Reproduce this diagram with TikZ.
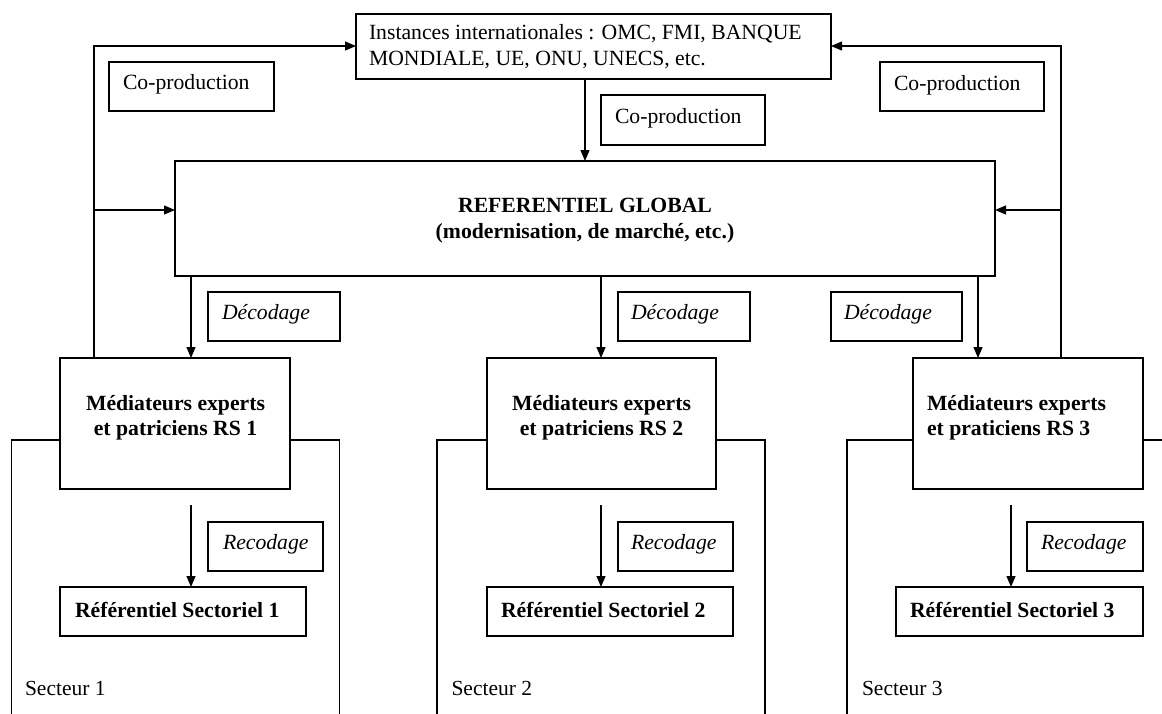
\documentclass[tikz,border=0pt]{standalone}
\usepackage{fontspec}
\setmainfont{Liberation Serif}
\usetikzlibrary{arrows.meta}
\begin{document}
\begin{tikzpicture}[x=1pt,y=-1pt,
 box/.style={draw, line width=1.2pt, anchor=north west, inner sep=0pt, outer sep=0pt},
 txt/.style={inner sep=0pt, outer sep=0pt, font=\fontsize{21.7}{25.5}\selectfont},
 ltxt/.style={txt, anchor=west, align=left},
 ctxt/.style={txt, anchor=center, align=center},
 arr/.style={line width=1.2pt, -{Triangle[length=11pt,width=9pt]}},
 ln/.style={line width=1.2pt}]
\useasboundingbox (0,0) rectangle (1162,713);

% boxes
\node[box, minimum width=475pt, minimum height=65pt] (T) at (356,14) {};
\node[box, minimum width=165pt, minimum height=49pt] (cpL) at (109,62) {};
\node[box, minimum width=164pt, minimum height=50pt] (cpM) at (601,95) {};
\node[box, minimum width=164pt, minimum height=49pt] (cpR) at (880,62) {};
\node[box, minimum width=820pt, minimum height=115pt] (RG) at (175,161) {};
\node[box, minimum width=132pt, minimum height=49pt] (d1) at (208,292) {};
\node[box, minimum width=132pt, minimum height=49pt] (d2) at (618,292) {};
\node[box, minimum width=131pt, minimum height=49pt] (d3) at (831,292) {};
\node[box, minimum width=230pt, minimum height=131pt] (m1) at (60,358) {};
\node[box, minimum width=229pt, minimum height=131pt] (m2) at (487,358) {};
\node[box, minimum width=230pt, minimum height=131pt] (m3) at (913,358) {};
\node[box, minimum width=115pt, minimum height=49pt] (r1) at (208,522) {};
\node[box, minimum width=115pt, minimum height=49pt] (r2) at (618,522) {};
\node[box, minimum width=116pt, minimum height=49pt] (r3) at (1027,522) {};
\node[box, minimum width=246pt, minimum height=49pt] (s1) at (60,587) {};
\node[box, minimum width=246pt, minimum height=49pt] (s2) at (487,587) {};
\node[box, minimum width=247pt, minimum height=49pt] (s3) at (896,587) {};

% texts
\node[ltxt] (tT) at (369,46.5) {Instances internationales : OMC, FMI, BANQUE\\MONDIALE, UE, ONU, UNECS, etc.};
\node[ltxt] (tcpL) at (123,84) {Co-production};
\node[ltxt] (tcpM) at (615,118) {Co-production};
\node[ltxt] (tcpR) at (894,85) {Co-production};
\node[ctxt, font=\fontsize{21.7}{26}\selectfont\bfseries] (tRG) at (585,221) {REFERENTIEL GLOBAL\\(modernisation, de marché, etc.)};
\node[ltxt, font=\fontsize{21.7}{25.5}\selectfont\itshape] (td1) at (222,314) {Décodage};
\node[ltxt, font=\fontsize{21.7}{25.5}\selectfont\itshape] (td2) at (631,314) {Décodage};
\node[ltxt, font=\fontsize{21.7}{25.5}\selectfont\itshape] (td3) at (844,314) {Décodage};
\node[ctxt, font=\fontsize{21.7}{24.5}\selectfont\bfseries] (tm1) at (175.5,418) {Médiateurs experts\\et patriciens RS 1};
\node[ctxt, font=\fontsize{21.7}{24.5}\selectfont\bfseries] (tm2) at (601.5,418) {Médiateurs experts\\et patriciens RS 2};
\node[ltxt, font=\fontsize{21.7}{24.5}\selectfont\bfseries] (tm3) at (927,418) {Médiateurs experts\\et praticiens RS 3};
\node[ltxt, font=\fontsize{21.7}{25.5}\selectfont\itshape] (tr1) at (223,544) {Recodage};
\node[ltxt, font=\fontsize{21.7}{25.5}\selectfont\itshape] (tr2) at (631,544) {Recodage};
\node[ltxt, font=\fontsize{21.7}{25.5}\selectfont\itshape] (tr3) at (1041,544) {Recodage};
\node[ltxt, font=\fontsize{21.7}{25.5}\selectfont\bfseries] (ts1) at (75,610) {Référentiel Sectoriel 1};
\node[ltxt, font=\fontsize{21.7}{25.5}\selectfont\bfseries] (ts2) at (501,610) {Référentiel Sectoriel 2};
\node[ltxt, font=\fontsize{21.7}{25.5}\selectfont\bfseries] (ts3) at (910,610) {Référentiel Sectoriel 3};
\node[ltxt, font=\fontsize{21.5}{25}\selectfont] (sec1) at (25,688) {Secteur 1};
\node[ltxt, font=\fontsize{21.5}{25}\selectfont] (sec2) at (451.5,688) {Secteur 2};
\node[ltxt, font=\fontsize{21.5}{25}\selectfont] (sec3) at (862,688) {Secteur 3};

% helper coordinates
\coordinate (ax0) at (585,0);
\coordinate (lx) at (94,46);
\coordinate (rx) at (1061,46);
\coordinate (ly) at (0,210);
\coordinate (dx1) at (191,0);
\coordinate (dx2) at (601,0);
\coordinate (dx3) at (978,0);
\coordinate (rx3) at (1011,0);
\coordinate (rs) at (0,505);
\coordinate (sy) at (0,440);
\coordinate (bot) at (0,720);
\coordinate (sL1) at (11.5,440);
\coordinate (sR1) at (339.5,440);
\coordinate (sL2) at (437,440);
\coordinate (sR2) at (765,440);
\coordinate (sL3) at (847,440);
\coordinate (sR3) at (1175,440);

% connectors
\draw[arr] (T.south -| ax0) -- (RG.north -| ax0);
\draw[arr] (m1.north -| lx) -- (lx) -- (T.west |- lx);
\draw[arr] (lx |- ly) -- (RG.west |- ly);
\draw[arr] (m3.north -| rx) -- (rx) -- (T.east |- rx);
\draw[arr] (rx |- ly) -- (RG.east |- ly);
\draw[arr] (RG.south -| dx1) -- (m1.north -| dx1);
\draw[arr] (RG.south -| dx2) -- (m2.north -| dx2);
\draw[arr] (RG.south -| dx3) -- (m3.north -| dx3);
\draw[arr] (dx1 |- rs) -- (s1.north -| dx1);
\draw[arr] (dx2 |- rs) -- (s2.north -| dx2);
\draw[arr] (rx3 |- rs) -- (s3.north -| rx3);

% sector outlines
\draw[ln] (m1.west |- sy) -- (sL1) -- (sL1 |- bot);
\draw[ln] (m1.east |- sy) -- (sR1) -- (sR1 |- bot);
\draw[ln] (m2.west |- sy) -- (sL2) -- (sL2 |- bot);
\draw[ln] (m2.east |- sy) -- (sR2) -- (sR2 |- bot);
\draw[ln] (m3.west |- sy) -- (sL3) -- (sL3 |- bot);
\draw[ln] (m3.east |- sy) -- (sR3);
\end{tikzpicture}
\end{document}
